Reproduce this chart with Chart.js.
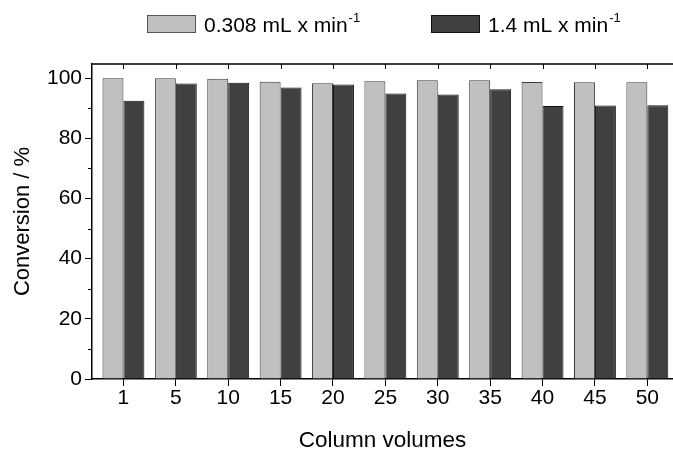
<!DOCTYPE html>
<html>
<head>
<meta charset="utf-8">
<script src="https://cdn.jsdelivr.net/npm/chart.js"></script>
<style>
  html, body { margin: 0; padding: 0; background: #fff; }
  #wrap { width: 673px; height: 451px; }
</style>
</head>
<body>
<div id="wrap"><canvas id="conv_chart" width="673" height="451"></canvas></div>
<script>
const volumes = ["1", "5", "10", "15", "20", "25", "30", "35", "40", "45", "50"];
const slowFlow = [100, 100, 99.8, 98.8, 98.3, 99.0, 99.3, 99.3, 98.7, 98.6, 98.6];
const fastFlow = [92.5, 98.2, 98.5, 96.9, 97.9, 94.9, 94.6, 96.3, 90.7, 90.9, 91.0];
const yTicks = [0, 20, 40, 60, 80, 100];
const yMinorTicks = [10, 30, 50, 70, 90];
const seriesNames = ["0.308 mL x min", "1.4 mL x min"];

const fontFamily = "'Liberation Sans', Arial, sans-serif";
const lightFill = "#c0c0c0";
const darkFill = "#404040";

const toPoints = (values) => values.map((v, i) => ({ x: i + 1, y: v }));

// minor ticks, top frame line and the legend with superscripts
const framePlugin = {
  id: "frame",
  afterDraw(chart) {
    const { ctx, chartArea, scales } = chart;
    ctx.save();
    ctx.strokeStyle = "#000";
    ctx.lineWidth = 1.5;

    ctx.beginPath();
    ctx.moveTo(chartArea.left, chartArea.top);
    ctx.lineTo(chartArea.right, chartArea.top);
    ctx.stroke();

    ctx.lineWidth = 1;
    yMinorTicks.forEach((v) => {
      const y = Math.round(scales.y.getPixelForValue(v)) + 0.5;
      ctx.beginPath();
      ctx.moveTo(chartArea.left - 4, y);
      ctx.lineTo(chartArea.left, y);
      ctx.stroke();
    });
    volumes.forEach((_, i) => {
      const x = Math.round(scales.x.getPixelForValue(i + 1)) + 0.5;
      ctx.beginPath();
      ctx.moveTo(x, chartArea.top);
      ctx.lineTo(x, chartArea.top + 5);
      ctx.stroke();
    });

    const items = [
      { box: 147, text: 204, fill: lightFill, stroke: "#555" },
      { box: 431, text: 488, fill: darkFill, stroke: "#111" },
    ];
    items.forEach((item, i) => {
      ctx.fillStyle = item.fill;
      ctx.strokeStyle = item.stroke;
      ctx.fillRect(item.box, 15, 49, 18);
      ctx.strokeRect(item.box + 0.5, 15.5, 48, 17);
      ctx.fillStyle = "#000";
      ctx.textBaseline = "alphabetic";
      ctx.font = "21px " + fontFamily;
      ctx.fillText(seriesNames[i], item.text, 32);
      const w = ctx.measureText(seriesNames[i]).width;
      ctx.font = "13px " + fontFamily;
      ctx.fillText("-1", item.text + w + 1, 22);
    });
    ctx.restore();
  },
};

new Chart(document.getElementById("conv_chart"), {
  type: "bar",
  data: {
    datasets: [
      {
        label: seriesNames[0],
        data: toPoints(slowFlow),
        backgroundColor: lightFill,
        borderColor: "#3a3a3a",
        borderWidth: 1,
      },
      {
        label: seriesNames[1],
        data: toPoints(fastFlow),
        backgroundColor: darkFill,
        borderColor: "#111",
        borderWidth: 1,
      },
    ],
  },
  plugins: [framePlugin],
  options: {
    responsive: false,
    animation: false,
    datasets: {
      bar: {
        categoryPercentage: 0.8,
        barPercentage: 1,
      },
    },
    layout: {
      padding: { top: 64, left: 0, right: 0, bottom: 0 },
    },
    plugins: {
      legend: { display: false },
      tooltip: { enabled: false },
    },
    scales: {
      x: {
        type: "linear",
        min: 0.4,
        max: 11.49,
        offset: false,
        afterFit: (scale) => {
          scale.height = 72;
        },
        border: { color: "#000", width: 1.5 },
        grid: {
          offset: false,
          drawOnChartArea: false,
          drawTicks: true,
          tickLength: 7,
          tickColor: "#000",
        },
        ticks: {
          stepSize: 1,
          includeBounds: false,
          color: "#000",
          padding: 0,
          maxRotation: 0,
          font: { family: fontFamily, size: 21 },
          callback: (v) => volumes[v - 1] ?? "",
        },
        title: {
          display: true,
          text: "Column volumes",
          color: "#000",
          padding: { top: 0, bottom: -3 },
          font: { family: fontFamily, size: 22.5 },
        },
      },
      y: {
        min: 0,
        max: 104.7,
        afterFit: (scale) => {
          scale.width = 92;
        },
        border: { color: "#000", width: 1.5 },
        grid: {
          drawOnChartArea: false,
          drawTicks: true,
          tickLength: 7,
          tickColor: "#000",
        },
        afterBuildTicks: (scale) => {
          scale.ticks = yTicks.map((v) => ({ value: v }));
        },
        ticks: {
          color: "#000",
          padding: 3,
          font: { family: fontFamily, size: 21 },
        },
        title: {
          display: true,
          text: "Conversion / %",
          color: "#000",
          padding: { top: 10, bottom: 0 },
          font: { family: fontFamily, size: 22 },
        },
      },
    },
  },
});
</script>
</body>
</html>
